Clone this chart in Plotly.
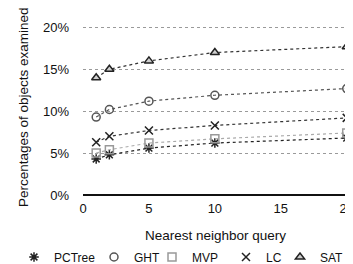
import plotly.graph_objects as go

queries = [1, 2, 5, 10, 20]
pctree = [4.3, 4.8, 5.6, 6.2, 6.8]
ght = [9.3, 10.2, 11.2, 11.9, 12.7]
mvp = [5.0, 5.4, 6.2, 6.7, 7.4]
lc = [6.3, 7.0, 7.7, 8.3, 9.2]
sat = [14.0, 15.0, 16.0, 17.0, 17.7]
y_ticks = [0, 5, 10, 15, 20]
y_ticktext = ["0%", "5%", "10%", "15%", "20%"]
x_ticks = [0, 5, 10, 15, 20]

series = [
    ("PCTree", pctree, "asterisk-open", "#222222", "#222222", "#222222"),
    ("GHT", ght, "circle-open", "#555555", "#555555", "#555555"),
    ("MVP", mvp, "square-open", "#999999", "#aaaaaa", "#999999"),
    ("LC", lc, "x-thin-open", "#222222", "#333333", "#222222"),
    ("SAT", sat, "triangle-up", "#222222", "#333333", "#cfcfcf"),
]

# figure is drawn inside the page body's default 8px margin
W, H = 345, 256
L, R, T, B = 75, 1, 11, 69
pw, ph = W - L - R, H - T - B

fig = go.Figure()
for name, vals, sym, mcol, lcol, fcol in series:
    fig.add_trace(go.Scatter(
        x=queries, y=vals, name=name, mode="lines+markers", showlegend=False,
        line=dict(color=lcol, width=1.2, dash="dot"),
        marker=dict(symbol=sym, size=8, color=fcol, line=dict(width=1.5, color=mcol)),
    ))

# one legend per entry so each can be placed like the original
leg_left = [6, 86, 144, 218, 272]
legends = {}
for i, (name, vals, sym, mcol, lcol, fcol) in enumerate(series):
    key = "legend" if i == 0 else f"legend{i + 1}"
    fig.add_trace(go.Scatter(
        x=[None], y=[None], name=name, mode="markers", legend=key,
        marker=dict(symbol=sym, size=8, color=fcol, line=dict(width=1.5, color=mcol)),
    ))
    legends[key] = dict(orientation="h", x=(leg_left[i] - L) / pw, xanchor="left",
                        y=-(249 - (T + ph)) / ph, yanchor="middle",
                        font=dict(size=12, color="#111111"), itemwidth=30,
                        bgcolor="rgba(0,0,0,0)", borderwidth=0)

font = "Liberation Sans, Arial, sans-serif"
fig.update_layout(
    width=W, height=H,
    margin=dict(l=L, r=R, t=T, b=B, autoexpand=False, pad=0),
    paper_bgcolor="white", plot_bgcolor="white",
    font=dict(family=font, size=13, color="#111111"),
    showlegend=True,
    xaxis=dict(range=[0, 20.4], tickvals=x_ticks, showgrid=False,
               zeroline=False, showline=False, ticks="", automargin=False,
               ticklabelstandoff=4, ticklabeloverflow="allow",
               tickfont=dict(size=13, color="#111111")),
    yaxis=dict(range=[0, 21], tickvals=y_ticks, ticktext=y_ticktext,
               showgrid=True, gridcolor="#9a9a9a", griddash="dot", gridwidth=1,
               zeroline=True, zerolinecolor="#111111", zerolinewidth=2,
               showline=False, ticks="", ticklabelstandoff=13, automargin=False,
               tickfont=dict(size=13, color="#111111")),
    annotations=[
        dict(text="Percentages of objects examined", textangle=-90,
             xref="paper", yref="paper", x=(15 - L) / pw, y=0.5,
             xanchor="center", yanchor="middle", showarrow=False,
             font=dict(size=13.5, color="#111111")),
        dict(text="Nearest neighbor query",
             xref="paper", yref="paper", x=(207 - L) / pw, y=-(227 - (T + ph)) / ph,
             xanchor="center", yanchor="middle", showarrow=False,
             font=dict(size=13.5, color="#111111")),
    ],
    **legends,
)

fig.write_html("out.html")
